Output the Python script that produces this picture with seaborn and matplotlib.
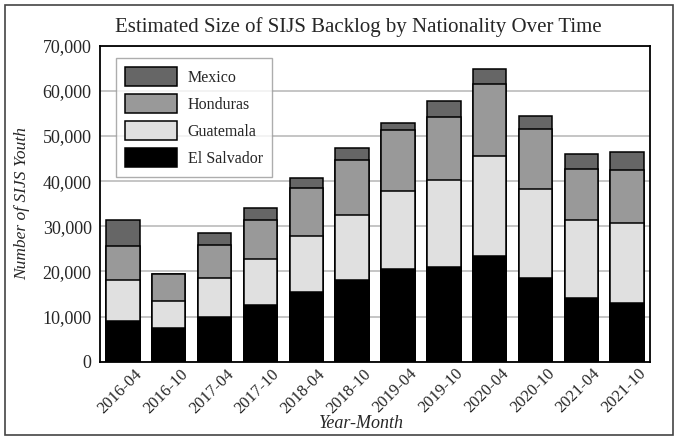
import numpy as np
import pandas as pd
import matplotlib.pyplot as plt
import matplotlib.transforms as mtransforms
import seaborn as sns
from matplotlib.patches import Patch, Rectangle
from matplotlib.ticker import FuncFormatter

# values
months = ['2016-04', '2016-10', '2017-04', '2017-10', '2018-04', '2018-10',
          '2019-04', '2019-10', '2020-04', '2020-10', '2021-04', '2021-10']
el_salvador = [9100, 7400, 10000, 12600, 15550, 18150, 20450, 21050, 23340, 18450, 14000, 13050]
guatemala = [8900, 6150, 8450, 10050, 12300, 14450, 17330, 19100, 22220, 19780, 17420, 17620]
honduras = [7700, 5850, 7400, 8700, 10530, 12070, 13550, 14150, 16000, 13330, 11330, 11710]
mexico = [5600, 0, 2750, 2800, 2420, 2730, 1570, 3480, 3190, 2970, 3180, 4000]

countries = ['Mexico', 'Honduras', 'Guatemala', 'El Salvador']
colors = ['#666666', '#999999', '#e0e0e0', '#000000']

df = pd.DataFrame({'month': months, 'El Salvador': el_salvador, 'Guatemala': guatemala,
                   'Honduras': honduras, 'Mexico': mexico})
# cumulative heights, drawn tallest first so lower stacks sit on top
df['c_es'] = df['El Salvador']
df['c_gu'] = df['c_es'] + df['Guatemala']
df['c_ho'] = df['c_gu'] + df['Honduras']
df['c_mx'] = df['c_ho'] + df['Mexico']

sns.set_style('white')
plt.rcParams['font.family'] = ['Liberation Serif', 'DejaVu Serif']

fig, ax = plt.subplots(figsize=(6.8, 4.4), dpi=100)
fig.subplots_adjust(left=0.147, right=0.956, top=0.896, bottom=0.178)

for col, color in zip(['c_mx', 'c_ho', 'c_gu', 'c_es'], colors):
    sns.barplot(data=df, x='month', y=col, color=color, width=0.73,
                edgecolor='black', linewidth=1.1, saturation=1, ax=ax, zorder=3)

ax.set_ylim(0, 70000)
ax.set_xlim(-0.5, 11.5)
ax.set_yticks(np.arange(0, 70001, 10000))
ax.yaxis.set_major_formatter(FuncFormatter(lambda v, p: f'{int(v):,}'))
ax.yaxis.grid(True, color='#bbbbbb', linewidth=1.2, zorder=0)
ax.set_axisbelow(True)
ax.tick_params(axis='y', labelsize=13, length=0, pad=6)
ax.tick_params(axis='x', labelsize=12, length=0, pad=3)
shift = mtransforms.ScaledTranslation(0.11, 0, fig.dpi_scale_trans)
for lbl in ax.get_xticklabels():
    lbl.set_rotation(45)
    lbl.set_ha('right')
    lbl.set_rotation_mode('anchor')
    lbl.set_transform(lbl.get_transform() + shift)
for s in ax.spines.values():
    s.set_color('black')
    s.set_linewidth(1.3)

ax.set_title('Estimated Size of SIJS Backlog by Nationality Over Time', fontsize=15,
             pad=10, x=0.469)
ax.set_xlabel('Year-Month', fontsize=13, style='italic', labelpad=-1, x=0.475)
ax.set_ylabel('Number of SIJS Youth', fontsize=12.5, style='italic', labelpad=9)

handles = [Patch(facecolor=c, edgecolor='black', linewidth=1.1, label=n)
           for n, c in zip(countries, colors)]
leg = ax.legend(handles=handles, loc='upper left', fontsize=11.5, frameon=True,
                fancybox=False, edgecolor='#999999', borderpad=0.6,
                handlelength=3.2, handleheight=1.45, handletextpad=0.7,
                labelspacing=0.5, borderaxespad=0, bbox_to_anchor=(0.029, 0.962))
leg.get_frame().set_linewidth(1.0)

# outer frame around the whole picture
fig.patches.append(Rectangle((5 / 680, 5 / 440), 668 / 680, 430 / 440,
                             transform=fig.transFigure, fill=False,
                             edgecolor='#444444', linewidth=1.2))

plt.savefig('out.png', dpi=100)
